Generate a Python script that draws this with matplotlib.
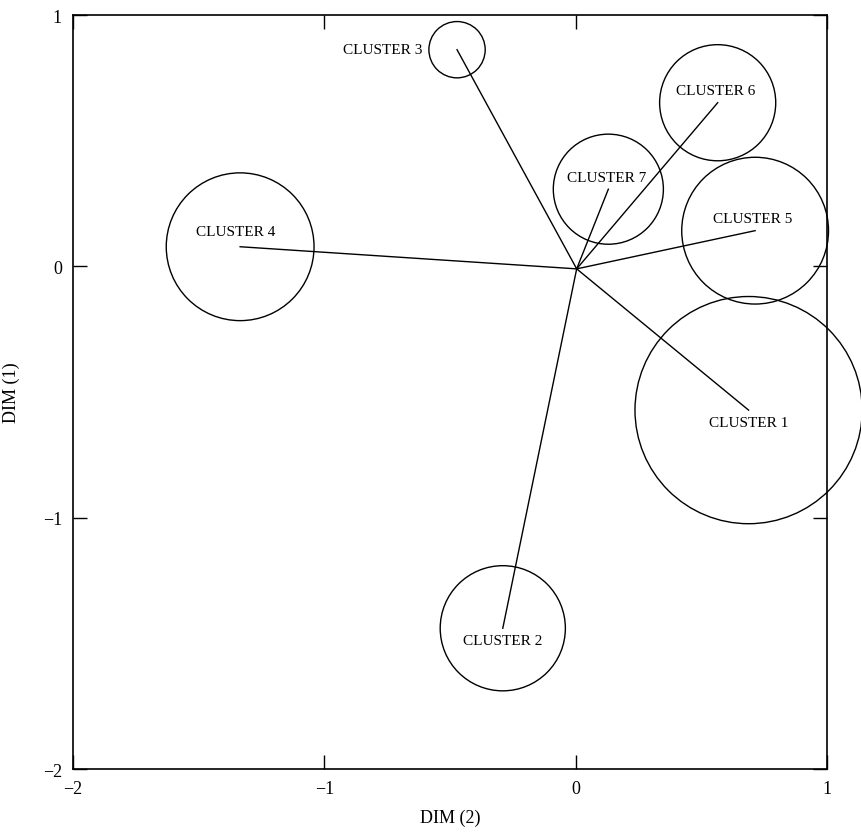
import matplotlib.pyplot as plt
from matplotlib.patches import Circle

plt.rcParams['font.family'] = ['Liberation Serif', 'DejaVu Serif']

# cluster centres (DIM 2, DIM 1) and circle radii
names = ['CLUSTER 1', 'CLUSTER 2', 'CLUSTER 3', 'CLUSTER 4',
         'CLUSTER 5', 'CLUSTER 6', 'CLUSTER 7']
xs = [0.688, -0.290, -0.472, -1.335, 0.714, 0.565, 0.130]
ys = [-0.572, -1.440, 0.862, 0.078, 0.142, 0.651, 0.307]
radii = [0.452, 0.249, 0.112, 0.294, 0.292, 0.231, 0.219]
origin = (0.004, -0.01)

ticks = [-2, -1, 0, 1]

fig = plt.figure(figsize=(8.62, 8.37), dpi=100)
ax = fig.add_axes([0.0847, 0.0800, 0.8747, 0.9009])

for name, x, y, r in zip(names, xs, ys, radii):
    ax.add_patch(Circle((x, y), r, fill=False, color='black', lw=1.0, clip_on=False))
    ax.plot([origin[0], x], [origin[1], y], color='black', lw=1.0)
    if name == 'CLUSTER 3':
        ax.text(x - 0.137, y, name, ha='right', va='center', fontsize=11)
    elif name in ('CLUSTER 1', 'CLUSTER 2'):
        ax.text(x, y - 0.048, name, ha='center', va='center', fontsize=11)
    elif name == 'CLUSTER 4':
        ax.text(x - 0.018, y + 0.062, name, ha='center', va='center', fontsize=11)
    else:
        ax.text(x - 0.008, y + 0.048, name, ha='center', va='center', fontsize=11)

ax.set_xlim(-2, 1)
ax.set_ylim(-2, 1)
ax.set_aspect('equal')
ax.set_xticks(ticks)
ax.set_yticks(ticks)
ax.tick_params(direction='in', length=10, width=1.0, top=True, right=True,
               labelsize=13, pad=8)
for s in ax.spines.values():
    s.set_linewidth(1.2)

ax.set_xlabel('DIM (2)', fontsize=13, labelpad=8)
ax.set_ylabel('DIM (1)', fontsize=13, labelpad=16)

fig.savefig('out.png', dpi=100)
